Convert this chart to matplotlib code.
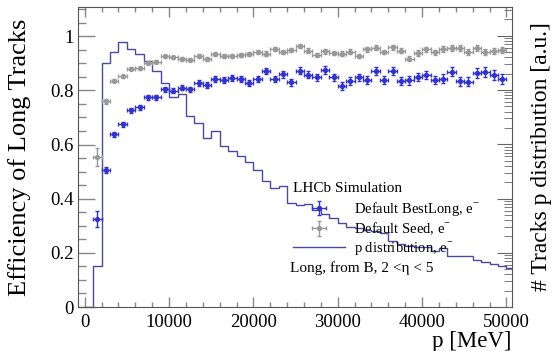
import numpy as np
import matplotlib
matplotlib.use("Agg")
import matplotlib.pyplot as plt
from matplotlib.lines import Line2D
from matplotlib.ticker import MultipleLocator, LogLocator, NullFormatter

plt.rcParams['font.family'] = ['Liberation Serif', 'DejaVu Serif']
plt.rcParams['mathtext.fontset'] = 'custom'
plt.rcParams['mathtext.rm'] = 'Liberation Serif'

# ---- data ----
p_centers = [1500, 2500, 3500, 4500, 5500, 6500, 7500, 8500, 9500, 10500,
             11500, 12500, 13500, 14500, 15500, 16500, 17500, 18500, 19500, 20500,
             21500, 22500, 23500, 24500, 25500, 26500, 27500, 28500, 29500, 30500,
             31500, 32500, 33500, 34500, 35500, 36500, 37500, 38500, 39500, 40500,
             41500, 42500, 43500, 44500, 45500, 46500, 47500, 48500, 49500]
p_halfwidth = [500] * len(p_centers)

eff_bestlong = [0.324, 0.506, 0.638, 0.675, 0.727, 0.737, 0.774, 0.774, 0.804, 0.799,
                0.810, 0.804, 0.829, 0.820, 0.842, 0.837, 0.846, 0.842, 0.827, 0.842,
                0.872, 0.842, 0.859, 0.830, 0.872, 0.858, 0.848, 0.875, 0.848, 0.817,
                0.834, 0.848, 0.838, 0.871, 0.839, 0.871, 0.834, 0.837, 0.850, 0.857,
                0.838, 0.843, 0.869, 0.834, 0.832, 0.865, 0.868, 0.858, 0.843]
err_bestlong = [0.030, 0.010, 0.009, 0.009, 0.009, 0.009, 0.009, 0.009, 0.010, 0.010,
                0.010, 0.010, 0.011, 0.011, 0.011, 0.011, 0.011, 0.012, 0.012, 0.012,
                0.012, 0.012, 0.013, 0.013, 0.013, 0.013, 0.013, 0.014, 0.014, 0.014,
                0.014, 0.014, 0.015, 0.015, 0.015, 0.015, 0.015, 0.016, 0.016, 0.016,
                0.016, 0.017, 0.017, 0.017, 0.017, 0.018, 0.018, 0.018, 0.018]

eff_seed = [0.554, 0.759, 0.836, 0.852, 0.880, 0.881, 0.902, 0.906, 0.926, 0.922,
            0.916, 0.913, 0.927, 0.916, 0.933, 0.926, 0.926, 0.930, 0.934, 0.943,
            0.936, 0.954, 0.941, 0.948, 0.965, 0.947, 0.930, 0.944, 0.938, 0.936,
            0.943, 0.927, 0.952, 0.957, 0.942, 0.960, 0.947, 0.917, 0.938, 0.952,
            0.941, 0.953, 0.956, 0.956, 0.942, 0.957, 0.941, 0.947, 0.948]
err_seed = [0.033, 0.008, 0.006, 0.006, 0.006, 0.006, 0.006, 0.006, 0.006, 0.006,
            0.006, 0.006, 0.006, 0.007, 0.007, 0.007, 0.007, 0.007, 0.007, 0.007,
            0.008, 0.008, 0.008, 0.008, 0.008, 0.008, 0.008, 0.008, 0.009, 0.009,
            0.009, 0.009, 0.009, 0.009, 0.009, 0.009, 0.010, 0.010, 0.010, 0.010,
            0.010, 0.010, 0.010, 0.010, 0.011, 0.011, 0.011, 0.011, 0.011]

hist_edges = list(range(0, 52000, 1000))
hist_values = [0.0, 0.150, 0.903, 0.943, 0.979, 0.954, 0.934, 0.910, 0.871, 0.826,
               0.774, 0.785, 0.707, 0.680, 0.623, 0.650, 0.594, 0.578, 0.557, 0.536,
               0.505, 0.464, 0.441, 0.446, 0.385, 0.375, 0.380, 0.357, 0.345, 0.328,
               0.310, 0.297, 0.290, 0.283, 0.280, 0.272, 0.245, 0.232, 0.225, 0.222,
               0.222, 0.205, 0.218, 0.190, 0.190, 0.188, 0.172, 0.165, 0.158, 0.150,
               0.143]

y_ticks = [0, 0.2, 0.4, 0.6, 0.8, 1.0]
y_ticklabels = ['0', '0.2', '0.4', '0.6', '0.8', '1']
x_ticks = [0, 10000, 20000, 30000, 40000, 50000]

# ---- figure ----
fig = plt.figure(figsize=(5.55, 3.51), dpi=100)
ax = fig.add_axes([78/555, 1-307/351, 434/555, 300/351])

blue = '#3333cc'
grey = '#999999'
histc = '#4a4aa0'

ax.stairs(hist_values, hist_edges, color=histc, lw=1.0, baseline=None)
eb_seed = ax.errorbar(p_centers, eff_seed, xerr=p_halfwidth, yerr=err_seed, fmt='o',
                      color=grey, ms=2.8, elinewidth=1.0, capsize=1.5, capthick=1.0)
eb_best = ax.errorbar(p_centers, eff_bestlong, xerr=p_halfwidth, yerr=err_bestlong, fmt='o',
                      color=blue, ms=2.8, elinewidth=1.0, capsize=1.5, capthick=1.0)

ax.set_xlim(-800, 50660)
ax.set_ylim(0, 1.108)
ax.set_yticks(y_ticks)
ax.set_yticklabels(y_ticklabels)
ax.set_xticks(x_ticks)
ax.yaxis.set_minor_locator(MultipleLocator(0.05))
ax.xaxis.set_minor_locator(MultipleLocator(2000))

spc = '#555555'
for s in ['left', 'bottom', 'top']:
    ax.spines[s].set_color(spc)
ax.spines['right'].set_visible(False)
ax.tick_params(which='both', direction='in', top=True, right=False, colors='#888888',
               labelcolor='black', labelsize=13.5)
ax.tick_params(axis='x', which='major', length=7.5, width=1.0, pad=5)
ax.tick_params(axis='x', which='minor', length=3.5, width=1.0)
ax.tick_params(axis='y', which='major', length=12, width=1.0, pad=3)
ax.tick_params(axis='y', which='minor', length=6, width=1.0)

ax.set_ylabel('Efficiency of Long Tracks', fontsize=19)
ax.yaxis.set_label_coords(-0.108, 0.5)
ax.set_xlabel('p [MeV]', fontsize=16.5, loc='right', labelpad=0)

# right log axis
ax2 = ax.twinx()
ax2.set_yscale('log')
ax2.set_ylim(1e-5, 10**0.53)
ax2.yaxis.set_major_locator(LogLocator(base=10, numticks=20))
ax2.yaxis.set_minor_locator(LogLocator(base=10, subs=np.arange(2, 10), numticks=20))
ax2.yaxis.set_major_formatter(NullFormatter())
ax2.yaxis.set_minor_formatter(NullFormatter())
ax2.tick_params(which='both', direction='in', colors='#666666')
ax2.tick_params(which='major', length=11)
ax2.tick_params(which='minor', length=5.5)
for s in ['left', 'bottom', 'top']:
    ax2.spines[s].set_visible(False)
ax2.spines['right'].set_color(spc)
ax2.set_ylabel('# Tracks p distribution [a.u.]', fontsize=17, labelpad=10)

# annotations
ax.text(0.495, 0.396, 'LHCb Simulation', transform=ax.transAxes, fontsize=11,
        ha='left', va='center')
ax.text(0.488, 0.129, 'Long, from B, 2 <\u03b7 < 5', transform=ax.transAxes, fontsize=11,
        ha='left', va='center')

h_hist = Line2D([], [], color=histc, lw=1.0)
leg = ax.legend([eb_best, eb_seed, h_hist],
                [r'Default BestLong, e$^{-}$', r'Default Seed, e$^{-}$', r'p distribution, e$^{-}$'],
                loc='upper left', bbox_to_anchor=(0.495, 0.357), frameon=False,
                fontsize=10.5, handlelength=3.6, handletextpad=0.6, labelspacing=0.18,
                borderpad=0, borderaxespad=0)

fig.savefig('out.png', dpi=100)
